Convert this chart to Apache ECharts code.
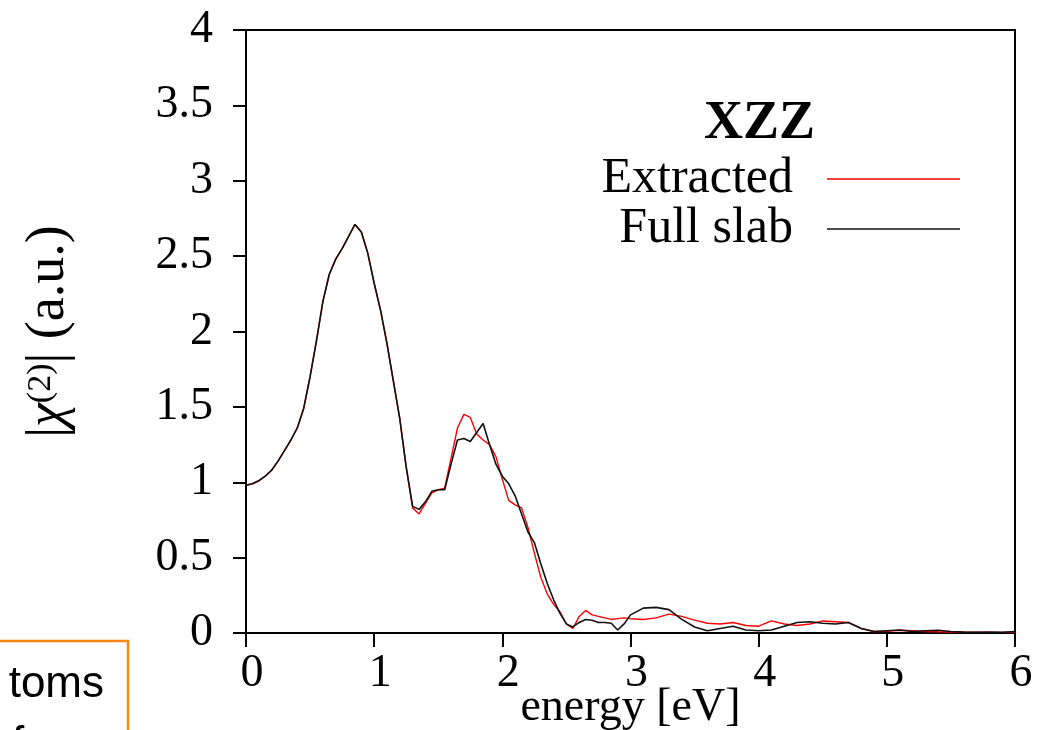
<!DOCTYPE html>
<html>
<head>
<meta charset="utf-8">
<script src="https://cdn.jsdelivr.net/npm/echarts@6/dist/echarts.min.js"></script>
<style>
  html, body { margin: 0; padding: 0; background: #fff; }
  #chart { width: 1037px; height: 730px; }
</style>
</head>
<body>
<div id="chart"></div>
<script>
// Photon energy grid (eV)
const energy = [
  0, 0.05, 0.1, 0.15, 0.2, 0.25, 0.3, 0.35, 0.4, 0.45,
  0.5, 0.55, 0.6, 0.65, 0.7, 0.75, 0.8, 0.85, 0.9, 0.95,
  1.0, 1.05, 1.1, 1.15, 1.2, 1.25, 1.3, 1.35, 1.4, 1.45,
  1.5, 1.55, 1.6, 1.65, 1.7, 1.75, 1.8, 1.85, 1.9, 1.95,
  2.0, 2.05, 2.1, 2.15, 2.2, 2.25, 2.3, 2.35, 2.4, 2.45,
  2.5, 2.55, 2.6, 2.65, 2.7, 2.75, 2.8, 2.85, 2.9, 2.95,
  3.0, 3.1, 3.2, 3.3, 3.4, 3.5, 3.6, 3.7, 3.8, 3.9,
  4.0, 4.1, 4.2, 4.3, 4.4, 4.5, 4.6, 4.7, 4.8, 4.9,
  5.0, 5.1, 5.2, 5.3, 5.4, 5.5, 5.6, 5.7, 5.8, 5.9, 6.0
];

// |chi(2)| XZZ component, extracted surface response
const extracted = [
  0.98, 0.99, 1.01, 1.04, 1.08, 1.14, 1.21, 1.28, 1.36, 1.49,
  1.70, 1.94, 2.20, 2.38, 2.48, 2.55, 2.63, 2.71, 2.66, 2.52,
  2.32, 2.14, 1.92, 1.67, 1.42, 1.10, 0.83, 0.79, 0.86, 0.93,
  0.95, 0.96, 1.16, 1.36, 1.45, 1.43, 1.32, 1.28, 1.25, 1.17,
  1.02, 0.88, 0.85, 0.83, 0.70, 0.53, 0.37, 0.26, 0.19, 0.14,
  0.06, 0.03, 0.11, 0.15, 0.12, 0.11, 0.10, 0.09, 0.095, 0.10,
  0.095, 0.09, 0.10, 0.125, 0.11, 0.085, 0.065, 0.06, 0.07, 0.05,
  0.045, 0.08, 0.06, 0.05, 0.06, 0.08, 0.075, 0.07, 0.03, 0.01,
  0.012, 0.018, 0.015, 0.01, 0.008, 0.007, 0.006, 0.005, 0.004, 0.004, 0.006
];

// |chi(2)| XZZ component, full slab calculation
const fullSlab = [
  0.98, 0.99, 1.01, 1.04, 1.08, 1.14, 1.21, 1.28, 1.36, 1.49,
  1.70, 1.94, 2.20, 2.38, 2.48, 2.55, 2.63, 2.71, 2.66, 2.52,
  2.32, 2.14, 1.92, 1.67, 1.42, 1.10, 0.84, 0.82, 0.87, 0.94,
  0.95, 0.95, 1.12, 1.28, 1.29, 1.27, 1.33, 1.39, 1.25, 1.12,
  1.04, 0.99, 0.91, 0.79, 0.67, 0.60, 0.46, 0.33, 0.22, 0.13,
  0.06, 0.04, 0.07, 0.09, 0.085, 0.07, 0.07, 0.065, 0.02, 0.06,
  0.12, 0.165, 0.17, 0.155, 0.09, 0.04, 0.015, 0.03, 0.045, 0.02,
  0.015, 0.02, 0.045, 0.07, 0.075, 0.065, 0.06, 0.07, 0.03, 0.01,
  0.015, 0.02, 0.01, 0.015, 0.018, 0.01, 0.006, 0.005, 0.006, 0.005, 0.01
];

const seriesNames = ['Extracted', 'Full slab'];
const seriesColors = ['#ff0000', '#111111'];
const panelTitle = 'XZZ';

const serif = '"Liberation Serif", "DejaVu Serif", serif';
const sans = '"Liberation Sans", Arial, sans-serif';
const pair = ys => energy.map((e, i) => [e, ys[i]]);

const chart = echarts.init(document.getElementById('chart'), null, { renderer: 'canvas' });

chart.setOption({
  backgroundColor: '#ffffff',
  animation: false,
  grid: {
    left: 246, right: 22, top: 30, bottom: 97,
    containLabel: false, outerBoundsMode: 'none',
    show: true, borderColor: '#000', borderWidth: 2, backgroundColor: 'transparent'
  },
  title: {
    text: panelTitle,
    right: 222, top: 97, padding: 0,
    textStyle: { fontFamily: serif, fontWeight: 'bold', fontSize: 54, color: '#000' }
  },
  legend: {
    data: seriesNames,
    orient: 'vertical',
    align: 'right',
    right: 77, top: 154, padding: 0,
    itemGap: 0,
    itemWidth: 133, itemHeight: 1.6,
    icon: 'rect',
    selectedMode: false,
    textStyle: {
      fontFamily: serif, fontSize: 50, color: '#000',
      lineHeight: 50, padding: [0, 29, 0, 0]
    }
  },
  xAxis: {
    type: 'value', min: 0, max: 6, interval: 1,
    name: 'energy [eV]', nameLocation: 'middle', nameGap: 52,
    nameMoveOverlap: false,
    nameTextStyle: { fontFamily: serif, fontSize: 46, color: '#000', lineHeight: 46 },
    axisLine: { show: true, lineStyle: { color: '#000', width: 2 } },
    axisTick: { show: true, inside: false, length: 14, lineStyle: { color: '#000', width: 2 } },
    axisLabel: {
      margin: 18, fontFamily: serif, fontSize: 46, color: '#000',
      padding: [0, 0, 0, 12]
    },
    splitLine: { show: false }
  },
  yAxis: {
    type: 'value', min: 0, max: 4, interval: 0.5,
    name: '{t||}{i|χ}{s|(2)}{t|| (a.u.)}', nameLocation: 'middle', nameGap: 170,
    nameMoveOverlap: false,
    nameTextStyle: {
      fontFamily: serif, fontSize: 54, fontWeight: 'normal', color: '#000', lineHeight: 66,
      rich: {
        t: { fontFamily: serif, fontSize: 54, fontWeight: 'normal', color: '#000', lineHeight: 56, verticalAlign: 'bottom' },
        i: { fontFamily: serif, fontStyle: 'italic', fontWeight: 'normal', fontSize: 54, color: '#000', lineHeight: 56, verticalAlign: 'bottom' },
        s: { fontFamily: serif, fontSize: 34, fontWeight: 'normal', color: '#000', lineHeight: 34, verticalAlign: 'top', padding: [4, 0, 0, 0] }
      }
    },
    axisLine: { show: true, lineStyle: { color: '#000', width: 2 } },
    axisTick: { show: true, inside: false, length: 13, lineStyle: { color: '#000', width: 2 } },
    axisLabel: {
      margin: 33, fontFamily: serif, fontSize: 46, color: '#000',
      padding: [0, 0, 10, 0]
    },
    splitLine: { show: false }
  },
  series: [
    {
      name: seriesNames[0], type: 'line', data: pair(extracted),
      symbol: 'none', smooth: false, z: 2,
      itemStyle: { color: seriesColors[0] },
      lineStyle: { color: seriesColors[0], width: 1.4 }
    },
    {
      name: seriesNames[1], type: 'line', data: pair(fullSlab),
      symbol: 'none', smooth: false, z: 3,
      itemStyle: { color: seriesColors[1] },
      lineStyle: { color: seriesColors[1], width: 1.6 }
    }
  ],
  graphic: [
    {
      type: 'rect', silent: true, z: 10,
      shape: { x: -10, y: 641, width: 138, height: 120 },
      style: { fill: 'none', stroke: '#ff8514', lineWidth: 2.5 }
    },
    {
      type: 'text', silent: true, z: 10,
      x: 104, y: 707,
      style: {
        text: 'toms', align: 'right', verticalAlign: 'bottom',
        fontFamily: sans, fontSize: 44, fill: '#000'
      }
    },
    {
      type: 'text', silent: true, z: 10,
      x: 12, y: 767,
      style: {
        text: 'f', align: 'left', verticalAlign: 'bottom',
        fontFamily: sans, fontSize: 44, fill: '#000'
      }
    }
  ]
});
</script>
</body>
</html>
